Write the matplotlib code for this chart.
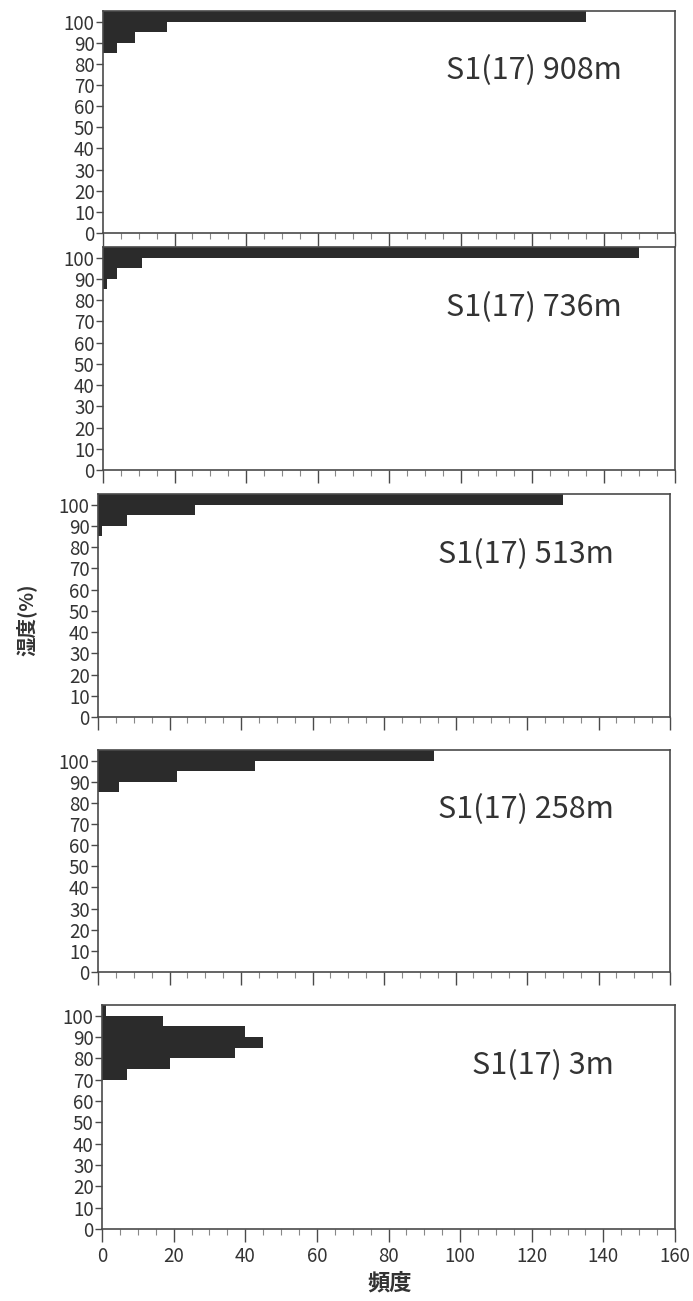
import matplotlib
matplotlib.use('Agg')
import matplotlib.pyplot as plt
from matplotlib.ticker import MultipleLocator

plt.rcParams['font.family'] = ['Noto Sans CJK JP', 'DejaVu Sans']

# lower edges of the 5% humidity bins
bin_lower = [100, 95, 90, 85, 80, 75, 70]
bin_width = 5

# frequency per bin, one list per altitude
counts_908 = [135, 18, 9, 4, 0, 0, 0]
counts_736 = [150, 11, 4, 1, 0, 0, 0]
counts_513 = [130, 27, 8, 1, 0, 0, 0]
counts_258 = [94, 44, 22, 6, 0, 0, 0]
counts_3 = [1, 17, 40, 45, 37, 19, 7]

labels = ['S1(17) 908m', 'S1(17) 736m', 'S1(17) 513m', 'S1(17) 258m', 'S1(17) 3m']
series = [counts_908, counts_736, counts_513, counts_258, counts_3]

x_ticks = [0, 20, 40, 60, 80, 100, 120, 140, 160]
y_ticks = [0, 10, 20, 30, 40, 50, 60, 70, 80, 90, 100]

W, H = 693, 1301
# panel boxes in pixels: left, right, top, bottom
boxes = [
    (103, 675, 11, 233),
    (103, 675, 247, 470),
    (98, 670, 494, 717),
    (98, 670, 750, 972),
    (102, 675, 1005, 1229),
]
label_x = [0.60, 0.60, 0.595, 0.595, 0.645]

fig = plt.figure(figsize=(W / 100, H / 100), dpi=100)
line_col = '#4a4a4a'
bar_col = '#2b2b2b'

for i, (box, counts, lab) in enumerate(zip(boxes, series, labels)):
    l, r, t, b = box
    ax = fig.add_axes([l / W, 1 - b / H, (r - l) / W, (b - t) / H])
    ax.barh(bin_lower, counts, height=bin_width, align='edge',
            color=bar_col, edgecolor='none')
    ax.set_xlim(0, 160)
    ax.set_ylim(0, 105)
    ax.set_xticks(x_ticks)
    ax.xaxis.set_minor_locator(MultipleLocator(5))
    ax.set_yticks(y_ticks)
    ax.tick_params(axis='x', which='major', direction='out', length=9,
                   width=1.0, color=line_col, labelsize=13.5, labelcolor='#333333')
    ax.tick_params(axis='x', which='minor', direction='out', length=4,
                   width=0.8, color='#888888')
    ax.tick_params(axis='y', which='major', direction='out', length=5,
                   width=1.0, color=line_col, labelsize=13.5, labelcolor='#333333',
                   pad=1)
    if i < len(boxes) - 1:
        ax.set_xticklabels([])
    for sp in ax.spines.values():
        sp.set_color(line_col)
        sp.set_linewidth(1.2)
    ax.text(label_x[i], 0.73, lab, transform=ax.transAxes, fontsize=22,
            color='#333333', ha='left', va='center')

fig.text(26 / W, 1 - 620 / H, '湿度(%)', rotation=90, ha='center', va='center',
         fontsize=14, fontweight='bold', color='#333333')
fig.text(390 / W, 1 - 1283 / H, '頻度', ha='center', va='center',
         fontsize=16, fontweight='bold', color='#333333')

fig.savefig('out.png', dpi=100, facecolor='white')
